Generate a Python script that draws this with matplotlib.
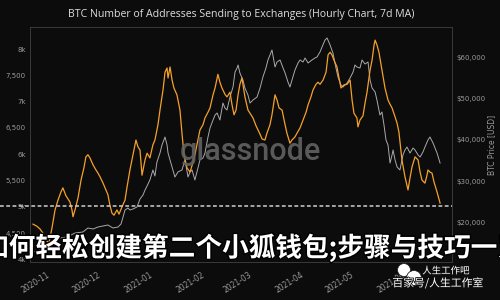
import matplotlib
matplotlib.use("Agg")
import matplotlib.pyplot as plt
import matplotlib.patheffects as pe
from matplotlib.ticker import FuncFormatter, FixedLocator
from matplotlib.patches import Ellipse
import pandas as pd

# ---------------- data ----------------
start_date = "2020-11-01"

# addresses sending to exchanges (7d MA), days since start_date
addr_days = [
    -8.3, -6.0, -4.2, -2.4, -0.6, 1.2, 3.0, 4.8, 6.6, 8.3,
    9.5, 11.3, 13.7, 14.9, 15.5, 16.7, 18.5, 20.3, 22.0, 23.2,
    24.4, 25.6, 27.4, 29.2, 30.4, 31.6, 33.4, 35.1, 36.3, 37.5,
    38.7, 39.9, 41.7, 42.9, 44.7, 46.5, 47.6, 49.4, 51.2, 53.0,
    54.2, 55.4, 56.6, 58.4, 59.6, 61.3, 63.1, 64.3, 66.1, 67.3,
    69.1, 70.3, 71.5, 72.1, 73.3, 74.5, 75.6, 77.4, 79.2, 80.4,
    81.6, 83.4, 85.2, 87.0, 88.1, 89.3, 91.1, 92.9, 94.1, 95.9,
    97.1, 98.9, 100.1, 101.8, 103.0, 104.2, 106.0, 107.2, 109.0, 110.2,
    111.4, 112.6, 113.8, 114.9, 116.1, 117.9, 119.7, 120.9, 122.7, 124.5,
    125.7, 126.9, 128.1, 129.8, 131.0, 132.8, 134.0, 135.8, 137.0, 138.2,
    140.0, 141.8, 142.9, 144.7, 145.9, 147.7, 148.9, 150.7, 152.5, 154.3,
    155.5, 157.2, 158.4, 160.2, 161.4, 162.6, 164.4, 166.2, 167.4, 168.6,
    169.7, 170.9, 172.7, 173.9, 175.1, 176.9, 178.7, 180.5, 181.7, 182.8,
    184.6, 185.2, 186.4, 188.2, 189.4, 190.6, 192.4, 193.6, 194.8, 195.4,
    196.5, 197.7, 199.5, 201.3, 203.1, 204.3, 205.5, 207.3, 208.5, 209.6,
    211.4, 213.2, 215.0, 216.2, 217.4, 219.2, 221.0, 222.2, 223.3, 225.1,
    226.3, 226.9, 228.1, 229.3, 230.5, 232.3, 234.1,
]
addr_values = [
    4670, 4630, 4580, 4500, 4370, 4310, 4600, 4940, 5130, 5280,
    5360, 5210, 5090, 4940, 4810, 4940, 5170, 5510, 5740, 5950,
    5990, 5930, 5800, 5700, 5640, 5570, 5450, 5320, 5230, 5030,
    4880, 4840, 4940, 4860, 5000, 5130, 5360, 5700, 5990, 6270,
    6140, 6080, 5600, 5890, 6020, 5930, 6180, 6270, 6560, 6840,
    7220, 7560, 7640, 7450, 7660, 7410, 7260, 7130, 6840, 6400,
    5990, 5740, 5660, 5850, 5990, 6180, 6460, 6560, 6690, 6800,
    6880, 7130, 7260, 7520, 7370, 7260, 7140, 7090, 7180, 6940,
    6750, 6840, 7130, 7330, 7450, 7090, 6840, 6780, 6690, 6540,
    6460, 6380, 6290, 6270, 6400, 6560, 6750, 7130, 7030, 6880,
    6840, 6560, 6400, 6210, 6270, 6330, 6400, 6500, 6650, 6800,
    6940, 7090, 7220, 7330, 7370, 7330, 7410, 7560, 7890, 7940,
    7890, 7790, 7660, 7450, 7260, 7320, 7330, 7410, 7030, 6780,
    6690, 6520, 6650, 6730, 6970, 7180, 7600, 7790, 8080, 8170,
    8080, 7940, 7600, 7260, 7030, 6950, 6880, 6710, 6590, 6420,
    5890, 5570, 5320, 5550, 5760, 5950, 5890, 5660, 5510, 5450,
    5600, 5700, 5660, 5640, 5470, 5280, 5070,
]

# BTC price (USD), days since start_date
price_days = [
    -8.3, -4.2, 0.0, 3.6, 7.7, 11.9, 16.7, 21.4, 24.4, 27.4,
    30.4, 33.4, 36.3, 39.3, 42.3, 44.1, 45.3, 46.5, 48.2, 49.4,
    51.2, 53.6, 55.4, 57.2, 58.4, 59.6, 61.3, 63.1, 64.3, 65.5,
    67.3, 68.5, 70.3, 71.5, 72.1, 73.3, 74.5, 76.2, 78.0, 80.4,
    82.2, 84.0, 85.2, 86.4, 88.1, 89.3, 91.1, 92.9, 94.1, 95.9,
    97.1, 98.9, 100.1, 101.3, 103.0, 104.8, 106.0, 107.2, 109.0, 110.8,
    112.0, 113.2, 113.8, 114.9, 116.7, 117.9, 119.7, 120.9, 122.7, 125.1,
    126.9, 128.6, 130.4, 131.6, 132.8, 134.0, 135.8, 137.0, 138.8, 140.6,
    141.8, 143.5, 144.7, 146.5, 147.7, 149.5, 150.7, 152.5, 153.7, 155.5,
    157.8, 159.6, 160.8, 162.6, 163.8, 165.6, 166.8, 168.6, 170.3, 172.1,
    173.3, 175.1, 176.3, 178.7, 180.5, 182.3, 183.4, 184.6, 186.4, 187.6,
    189.4, 191.2, 192.4, 193.6, 195.4, 196.5, 198.3, 199.5, 200.7, 201.9,
    203.1, 204.3, 205.5, 206.1, 207.3, 208.5, 210.2, 212.0, 213.2, 214.4,
    216.2, 218.0, 219.2, 221.0, 222.2, 223.9, 225.1, 226.9, 228.1, 229.9,
    231.1, 232.3, 234.1,
]
price_values = [
    13000, 13490, 14450, 15900, 16380, 16620, 17580, 17830, 18790, 18550,
    19030, 19270, 19510, 18790, 19030, 19750, 21440, 23130, 23610, 23130,
    23370, 23850, 25780, 26740, 27950, 28910, 30360, 32770, 31320, 34700,
    36860, 38790, 40720, 38790, 36860, 35180, 33490, 31080, 32290, 32770,
    35180, 31080, 32290, 32770, 30360, 32290, 35180, 35660, 36860, 40720,
    42890, 44820, 46020, 46500, 44820, 48910, 47710, 47230, 50360, 52770,
    56390, 57350, 58070, 56140, 54460, 52530, 50840, 48910, 49640, 50360,
    52530, 55180, 57350, 59280, 60480, 61690, 57590, 58800, 59280, 57350,
    56140, 53980, 52770, 55180, 56870, 58550, 59280, 58800, 59760, 58550,
    59280, 59760, 60000, 61210, 62410, 64100, 64580, 62890, 60960, 57350,
    55180, 53250, 52770, 53730, 54940, 56390, 58070, 57590, 57350, 59280,
    58310, 58800, 54460, 52530, 51570, 49640, 46020, 46750, 43610, 40000,
    38790, 34450, 36380, 37590, 35180, 33490, 32770, 36380, 37590, 38310,
    36860, 38070, 37590, 36380, 35900, 37110, 38310, 40000, 40720, 39270,
    38070, 36860, 34450,
]

month_ticks = ["2020-11", "2020-12", "2021-01", "2021-02", "2021-03",
               "2021-04", "2021-05", "2021-06"]
left_ticks = [4000, 4500, 5000, 5500, 6000, 6500, 7000, 7500, 8000]
right_ticks = [20000, 30000, 40000, 50000, 60000]
threshold = 5020

title = "BTC Number of Addresses Sending to Exchanges (Hourly Chart, 7d MA)"
overlay_title = "如何轻松创建第二个小狐钱包;步骤与技巧一览"

# ---------------- style ----------------
BG = "#0c0c0c"
ORANGE = "#f5a02a"
GREY = "#a9a9a9"
TICK = "#9a9a9a"
SPINE = "#3a3a3a"

start = pd.Timestamp(start_date)
addr_dates = start + pd.to_timedelta(addr_days, unit="D")
price_dates = start + pd.to_timedelta(price_days, unit="D")

fig = plt.figure(figsize=(5, 3), dpi=100, facecolor=BG)
ax = fig.add_axes([0.06, 0.1267, 0.844, 0.7833])
ax2 = ax.twinx()
ax.set_zorder(ax2.get_zorder() + 1)
ax.patch.set_visible(False)
ax2.set_facecolor(BG)

ax2.plot(price_dates, price_values, color=GREY, lw=0.7)
ax.plot(addr_dates, addr_values, color=ORANGE, lw=0.9)
ax.axhline(threshold, xmin=-0.072, xmax=1.0, color="#cfcfcf", lw=1.1,
           ls=(0, (2.5, 1.6)), clip_on=False)

ax.set_xlim(start + pd.Timedelta(days=-10.1), start + pd.Timedelta(days=241.2))
ax.set_ylim(3950, 8420)
ax2.set_ylim(10600, 67230)

ax.xaxis.set_major_locator(FixedLocator(
    [matplotlib.dates.date2num(pd.Timestamp(m + "-01")) for m in month_ticks]))
ax.set_xticklabels(month_ticks, rotation=32, ha="right", rotation_mode="anchor",
                   fontsize=5.5, color=TICK)

ax.set_yticks(left_ticks)
ax.yaxis.set_major_formatter(FuncFormatter(
    lambda v, p: f"{int(v/1000)}k" if v % 1000 == 0 else f"{int(v):,}"))
ax2.set_yticks(right_ticks)
ax2.yaxis.set_major_formatter(FuncFormatter(lambda v, p: f"${int(v):,}"))

for a in (ax, ax2):
    a.tick_params(axis="both", length=0, labelsize=5, colors=TICK, pad=3)
    for s in a.spines.values():
        s.set_color(SPINE)
        s.set_linewidth(0.6)
ax.tick_params(axis="x", pad=6, labelsize=5.5)

ax2.set_ylabel("BTC Price [USD]", fontsize=5.5, color=TICK, labelpad=1)

fig.text(0.482, 1 - 15 / 300, title, ha="center", va="center",
         fontsize=7.6, color="#dedede", family="Open Sans")

# glassnode watermark
fig.text(0.5, 1 - 152 / 300, "glassnode", ha="center", va="center",
         fontsize=22, color="#626262", alpha=0.9, family="Roboto",
         weight="medium", zorder=5)

# overlay headline
fig.text(-0.036, 1 - 248 / 300, overlay_title, ha="left", va="center",
         fontsize=19.2, color="white", weight="black",
         family=["Noto Sans CJK SC", "DejaVu Sans"], zorder=10,
         path_effects=[pe.withStroke(linewidth=2, foreground="black")])

# bottom-right watermark
for cx, cy, w, h in [(404, 270, 13, 13), (414, 278, 15, 15)]:
    fig.add_artist(Ellipse((cx / 500, 1 - cy / 300), w / 500, h / 300,
                           transform=fig.transFigure, facecolor="white",
                           edgecolor="#222222", lw=0.6, zorder=11))
fig.text(446 / 500, 1 - 271 / 300, "人生工作吧", ha="center", va="center",
         fontsize=6.8, color="white", family=["Noto Sans CJK SC", "DejaVu Sans"],
         zorder=12, path_effects=[pe.withStroke(linewidth=1.2, foreground="#111111")])
fig.text(438 / 500, 1 - 283 / 300, "百家号/人生工作室", ha="center", va="center",
         fontsize=7.8, color="white", family=["Noto Sans CJK SC", "DejaVu Sans"],
         zorder=12, path_effects=[pe.withStroke(linewidth=1.2, foreground="#111111")])

fig.savefig("out.png", dpi=100, facecolor=BG)
